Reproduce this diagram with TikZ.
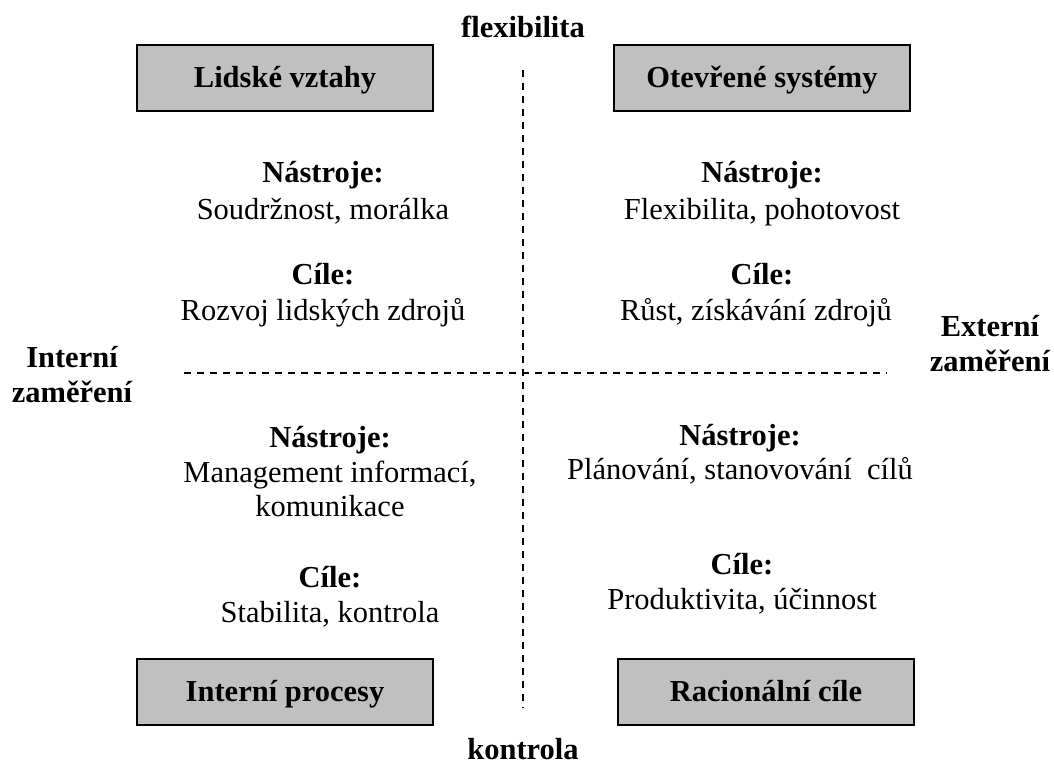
\documentclass[tikz,border=0pt]{standalone}
\usepackage{fontspec}
\setmainfont{Liberation Serif}
\begin{document}
\begin{tikzpicture}[x=1pt,y=-1pt,
  quad/.style={draw=black,line width=1.6pt,fill=boxgray,minimum width=296pt,minimum height=66pt,inner sep=0pt,text height=24pt,text depth=6pt,font=\fontsize{30.5}{35}\selectfont\bfseries},
  txt/.style={font=\fontsize{30.5}{35}\selectfont,inner sep=0pt,text height=24pt,text depth=6pt},
  hd/.style={txt,font=\fontsize{30.5}{35}\selectfont\bfseries},
  axis/.style={line width=1.3pt,dash pattern=on 7pt off 6pt}]
\definecolor{boxgray}{HTML}{C0C0C0}
\useasboundingbox (0,0) rectangle (1054,764);

% quadrant boxes
\node[quad] (hr) at (285,78) {Lidské vztahy};
\node[quad] (os) at (762,78) {Otevřené systémy};
\node[quad] (ip) at (285,692) {Interní procesy};
\node[quad] (rg) at (766,692) {Racionální cíle};

% axis labels
\node[hd] (flex) at (523,28) {flexibilita};
\node[hd] (ctrl) at (523,750) {kontrola};
\node[hd] (intf1) at (72,358) {Interní};
\node[hd] (intf2) at (72,393) {zaměření};
\node[hd] (extf1) at (990,327) {Externí};
\node[hd] (extf2) at (990,362) {zaměření};

% dashed axes
\coordinate (vt) at (523,70);
\coordinate (vb) at (523,708);
\coordinate (hl) at (184,373);
\coordinate (hr2) at (887,373);
\draw[axis] (vt) -- (vb);
\draw[axis] (hl) -- (hr2);

% upper left quadrant
\node[hd] (a1) at (323,173) {Nástroje:};
\node[txt] (a2) at (323,210) {Soudržnost, morálka};
\node[hd] (a3) at (323,275) {Cíle:};
\node[txt] (a4) at (323,311) {Rozvoj lidských zdrojů};

% upper right quadrant
\node[hd] (b1) at (762,173) {Nástroje:};
\node[txt] (b2) at (762,210) {Flexibilita, pohotovost};
\node[hd] (b3) at (762,275) {Cíle:};
\node[txt] (b4) at (756,311) {Růst, získávání zdrojů};

% lower left quadrant
\node[hd] (c1) at (330,438) {Nástroje:};
\node[txt] (c2) at (330,473) {Management informací,};
\node[txt] (c2b) at (330,507) {komunikace};
\node[hd] (c3) at (330,578) {Cíle:};
\node[txt] (c4) at (330,613) {Stabilita, kontrola};

% lower right quadrant
\node[hd] (d1) at (740,436) {Nástroje:};
\node[txt] (d2) at (740,470) {Plánování, stanovování~ cílů};
\node[hd] (d3) at (742,565) {Cíle:};
\node[txt] (d4) at (742,600) {Produktivita, účinnost};
\end{tikzpicture}
\end{document}
